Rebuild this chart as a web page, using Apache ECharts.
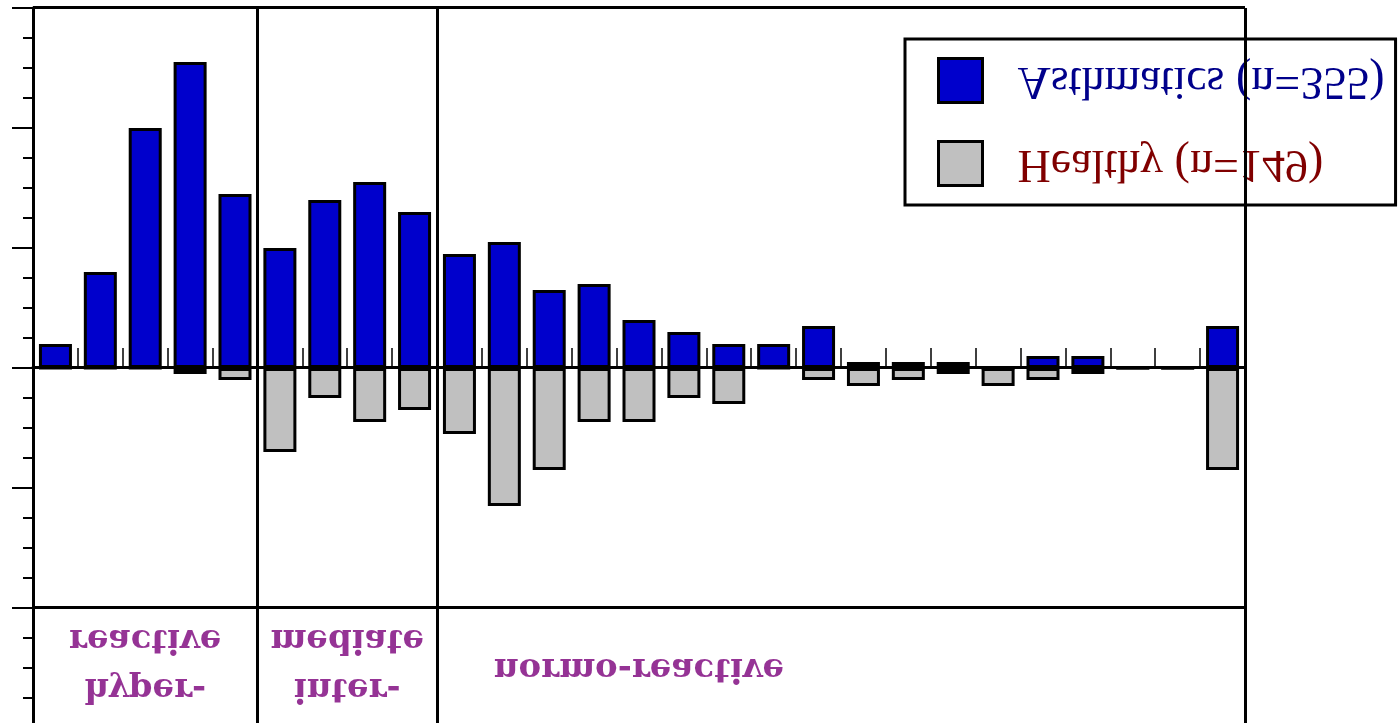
<!DOCTYPE html>
<html>
<head>
<meta charset="utf-8">
<script src="https://cdn.jsdelivr.net/npm/echarts@6/dist/echarts.min.js"></script>
<style>
  html, body { margin: 0; padding: 0; overflow: hidden; background: #fff; width: 1400px; height: 723px; }
  /* the whole figure is drawn mirrored top-to-bottom */
  #chart { position: absolute; left: 0; top: 0; width: 1400px; height: 740px; transform: scaleY(-1); transform-origin: 50% 50%; }
</style>
</head>
<body>
<div id="chart"></div>
<script>
// Responsiveness classes (bins), counts of subjects per bin
const categories = ['1','2','3','4','5','6','7','8','9','10','11','12','13','14','15','16','17','18','19','20','21','22','23','24','25','26','27'];
const asthmatics = [4,16,40,51,29,20,28,31,26,19,21,13,14,8,6,4,4,7,1,1,1,0,2,2,0,0,7];
const healthy    = [0,0,0,1,2,14,5,9,7,11,23,17,9,9,5,6,0,2,3,2,1,3,2,1,0,0,17];

// Group names and the bin where each group ends
const groupNames = ['hyper-\nreactive', 'inter-\nmediate', 'normo-reactive'];
const groupEnds  = [5, 9, 27];

const seriesNames = ['Asthmatics (n=355)', 'Healthy (n=149)'];

const chart = echarts.init(document.getElementById('chart'), null, { renderer: 'canvas' });

const black = '#000';
const labelAnchors = [groupEnds[0] / 2, (groupEnds[0] + groupEnds[1]) / 2, 13.5];
const labelLevels  = [-49.2, -49.2, -50];

chart.setOption({
  animation: false,
  backgroundColor: '#fff',
  grid: { left: 33, right: 155, top: 12, bottom: 8, containLabel: false },
  xAxis: [
    {
      type: 'category',
      data: categories,
      position: 'bottom',
      boundaryGap: true,
      axisLine: { show: true, onZero: true, lineStyle: { color: black, width: 3 } },
      axisTick: { show: true, length: 20, lineStyle: { color: black, width: 1.5 } },
      axisLabel: { show: false },
      splitLine: { show: false }
    },
    { type: 'value', min: 0, max: categories.length, show: false }
  ],
  yAxis: {
    type: 'value',
    min: -60, max: 60, interval: 20,
    inverse: true,
    axisLine: { show: true, onZero: false, lineStyle: { color: black, width: 3 } },
    axisTick: { show: true, length: 21, lineStyle: { color: black, width: 2 } },
    minorTick: { show: true, splitNumber: 4, length: 10, lineStyle: { color: black, width: 2 } },
    axisLabel: { show: false },
    splitLine: { show: false }
  },
  legend: {
    orient: 'vertical',
    left: 905, top: 535,
    selectedMode: false,
    icon: 'rect',
    itemWidth: 44, itemHeight: 44, itemGap: 36,
    padding: [18, 11, 18, 32],
    backgroundColor: '#fff',
    borderColor: black, borderWidth: 3, borderRadius: 0,
    itemStyle: { borderColor: black, borderWidth: 3 },
    textStyle: { fontFamily: 'Liberation Serif', fontSize: 46, lineHeight: 47, padding: [0, 0, 0, 30] },
    data: [
      { name: seriesNames[1], textStyle: { color: '#800000' } },
      { name: seriesNames[0], textStyle: { color: '#00008B' } }
    ]
  },
  series: [
    {
      name: seriesNames[0], type: 'bar',
      data: asthmatics,
      barWidth: 33, barGap: '-100%',
      itemStyle: { color: '#0000CC', borderColor: black, borderWidth: 3 },
      z: 3
    },
    {
      name: seriesNames[1], type: 'bar',
      data: healthy.map(v => -v),
      barWidth: 33, barGap: '-100%',
      itemStyle: { color: '#C0C0C0', borderColor: black, borderWidth: 3 },
      z: 3
    },
    {
      // frame and group separators
      name: 'frame', type: 'line', xAxisIndex: 1, data: [],
      markLine: {
        silent: true, symbol: ['none', 'none'],
        label: { show: false },
        lineStyle: { color: black, width: 3, type: 'solid' },
        data: [
          { yAxis: 60 }, { yAxis: -40 },
          { xAxis: groupEnds[0] }, { xAxis: groupEnds[1] }, { xAxis: groupEnds[2] }
        ]
      },
      z: 4
    },
    {
      // group captions
      name: 'groups', type: 'scatter', xAxisIndex: 1,
      symbolSize: 0, silent: true,
      data: groupNames.map((n, i) => ({ name: n, value: [labelAnchors[i], labelLevels[i]] })),
      label: {
        show: true, position: 'inside',
        formatter: p => p.name,
        fontFamily: 'DejaVu Serif', fontWeight: 'bold', fontSize: 34,
        lineHeight: 49, color: '#7A007A', align: 'center', verticalAlign: 'middle'
      },
      z: 5
    }
  ]
});
</script>
</body>
</html>
